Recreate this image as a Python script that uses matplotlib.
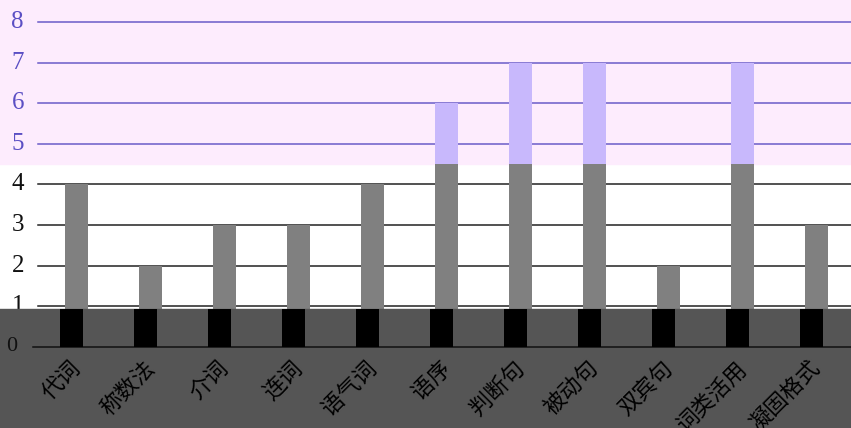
import numpy as np
import matplotlib
matplotlib.use('Agg')
import matplotlib.pyplot as plt
from matplotlib.patches import Rectangle

categories = ['代词', '称数法', '介词', '连词', '语气词', '语序',
              '判断句', '被动句', '双宾句', '词类活用', '凝固格式']
counts = [4, 2, 3, 3, 4, 6, 7, 7, 2, 7, 3]
yticks = [0, 1, 2, 3, 4, 5, 6, 7, 8]

cap = 4.5        # above this the bars turn light purple
floor = 0.94     # top of the dark strip at the bottom
shift = 0.068    # the dark strip is drawn a few pixels to the left

fig = plt.figure(figsize=(8.51, 4.28), dpi=100)
ax = fig.add_axes([0, 0, 1, 1])
ax.set_xlim(-1.034, 10.466)
ax.set_ylim(-1.995, 8.542)
ax.axis('off')

x = np.arange(len(categories))
vals = np.array(counts, dtype=float)
x0, x1 = -0.52, 10.466

# background bands
ax.add_patch(Rectangle((-1.1, cap), 12, 5, color='#fdecfd', zorder=0))

# grid lines
for v in yticks[1:]:
    col = '#6a5cc8' if v > cap else '#222222'
    ax.plot([x0, x1], [v, v], color=col, lw=1.1, zorder=1)
    ax.text(-0.71, v, str(v), ha='right', va='center', fontsize=18,
            family='Liberation Serif',
            color='#5b4fc4' if v > cap else '#111111', zorder=1)

w = 0.31
ax.bar(x, np.minimum(vals, cap), width=w, color='#808080', zorder=2)
ax.bar(x, np.clip(vals - cap, 0, None), bottom=cap, width=w,
       color='#c8b8fc', zorder=2)

# dark strip at the bottom
ax.add_patch(Rectangle((-1.1, -3), 12, 3 + floor, color='#555555', zorder=3))
ax.plot([x0 - shift, x1], [0, 0], color='#111111', lw=1.1, zorder=4)
ax.bar(x - shift, floor, width=w, color='#000000', zorder=4)
ax.text(-0.72 - 0.08, 0, '0', ha='right', va='center', fontsize=16,
        family='Liberation Serif', color='#111111', zorder=4)

for xi, name in zip(x, categories):
    ax.text(xi - 0.1, -0.24, name, rotation=45, ha='right', va='top',
            rotation_mode='anchor', fontsize=16,
            family=['Noto Sans CJK SC', 'DejaVu Sans'], color='#000000',
            zorder=5)

fig.savefig('out.png', dpi=100)
